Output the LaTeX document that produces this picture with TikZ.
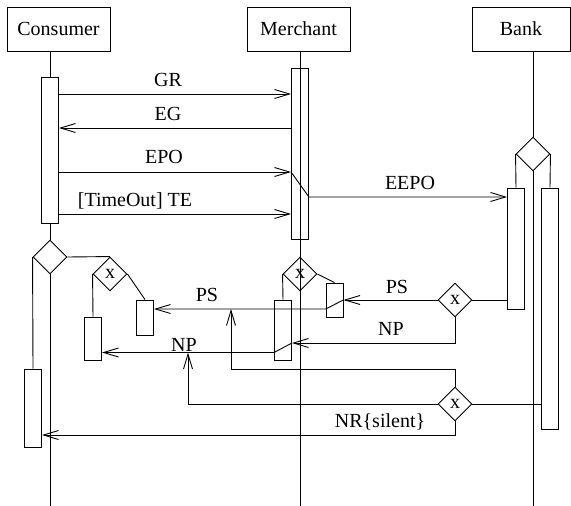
\documentclass[tikz,border=0pt]{standalone}
\usepackage{fontspec}
\setmainfont{Liberation Serif}
\usetikzlibrary{shapes.geometric, arrows.meta}

\begin{document}
\begin{tikzpicture}[x=1pt, y=-1pt, line width=0.9pt, >={Straight Barb[length=15pt, width=9pt]},
  every node/.style={font=\fontsize{20}{24}\selectfont}]
  \tikzstyle{actor} = [draw, rectangle, minimum width=103pt, minimum height=44pt, inner sep=0pt]
  \tikzstyle{act} = [draw, rectangle, minimum width=17pt, inner sep=0pt]
  \tikzstyle{dec} = [draw, diamond, aspect=1, minimum size=34pt, inner sep=0pt]
  \tikzstyle{lbl} = [anchor=base, inner sep=0pt]
  \useasboundingbox (0,0) rectangle (571,506);
  \node[actor] (consumer) at (58.5, 29) {Consumer};
  \node[actor] (merchant) at (298.5, 29) {Merchant};
  \node[actor, minimum width=98pt] (bank) at (521, 29) {Bank};
  \node[act, minimum height=146pt] (cact) at (50, 150) {};
  \node[act, minimum height=78pt] (cact2) at (33, 408) {};
  \node[act, minimum height=43pt] (cnp) at (93, 338.5) {};
  \node[act, minimum height=35pt] (cps) at (145, 317.5) {};
  \node[act, minimum height=171pt] (mact) at (300, 153.5) {};
  \node[act, minimum height=60pt] (mnp) at (283, 330) {};
  \node[act, minimum height=34pt] (mps) at (334.5, 300) {};
  \node[act, minimum height=121pt] (bact1) at (516, 248.5) {};
  \node[act, minimum height=241pt] (bact2) at (550, 308.5) {};
  \node[dec] (cdec) at (50, 257) {};
  \node[dec] (cx) at (110, 274) {x};
  \node[dec] (mdec) at (300, 274) {x};
  \node[dec] (bdec) at (533, 154) {};
  \node[dec] (bx1) at (455, 300) {x};
  \node[dec] (bx2) at (455, 404) {x};
  \coordinate (bot) at (0, 506);
  \coordinate (gr) at (0, 94);
  \coordinate (eg) at (0, 128);
  \coordinate (epo) at (0, 172);
  \coordinate (te) at (0, 214);
  \coordinate (eepo) at (0, 197);
  \coordinate (ps) at (0, 309);
  \coordinate (np) at (0, 343);
  \coordinate (np2) at (0, 352.5);
  \coordinate (nr) at (0, 435);
  \coordinate (psup) at (231, 369);
  \coordinate (npup) at (188, 352.5);
  \draw (consumer.south -| cact) -- (cact.north);
  \draw (cact.south) -- (cdec.north);
  \draw (cdec.south) -- (cdec |- bot);
  \draw (cdec.west) -- (cact2.north);
  \draw (cdec.east) -- (cx.north);
  \draw (cx.west) -- (cnp.north);
  \draw (cx.east) -- (cps.north);
  \draw (merchant.south -| mact) -- (mact |- bot);
  \draw (mdec.west) -- (mnp.north);
  \draw (mdec.east) -- (mps.north);
  \draw (bank.south -| bdec) -- (bdec.north);
  \draw (bdec.south) -- (bdec |- bot);
  \draw (bdec.west) -- (bact1.north);
  \draw (bdec.east) -- (bact2.north);
  \draw (bx1.east) -- (bact1.west |- bx1);
  \draw (bx2.east) -- (bact2.west |- bx2);
  \draw[->] (cact.east |- gr) -- (mact.west |- gr);
  \draw[->] (mact.west |- eg) -- (cact.east |- eg);
  \draw[->] (cact.east |- epo) -- (mact.west |- epo);
  \draw[->] (cact.east |- te) -- (mact.west |- te);
  \draw[->] (mact.west |- epo) -- (mact.east |- eepo) -- (bact1.west |- eepo);
  \draw[->] (bx1.west) -- (mps.east);
  \draw[->] (mps.east) -- (mps.west |- ps) -- (cps.east |- ps);
  \draw[->] (bx1.south) |- (mnp.east |- np);
  \draw[->] (mnp.east |- np) -- (mnp.west |- np2) -- (cnp.east |- np2);
  \draw[->] (bx2.north) |- (psup) -- (psup |- ps);
  \draw[->] (bx2.west) -| (npup);
  \draw[->] (bx2.south) |- (cact2.east |- nr);
  \node[lbl] (lgr) at (168, 86) {GR};
  \node[lbl] (leg) at (168, 120) {EG};
  \node[lbl] (lepo) at (164, 163) {EPO};
  \node[lbl] (lte) at (135, 206) {[TimeOut] TE};
  \node[lbl] (leepo) at (410, 189) {EEPO};
  \node[lbl] (lps1) at (397, 293) {PS};
  \node[lbl] (lnp1) at (391, 335) {NP};
  \node[lbl] (lps2) at (207, 301) {PS};
  \node[lbl] (lnp2) at (184, 351.5) {NP};
  \node[lbl] (lnr) at (380, 427) {NR\{silent\}};
\end{tikzpicture}
\end{document}
